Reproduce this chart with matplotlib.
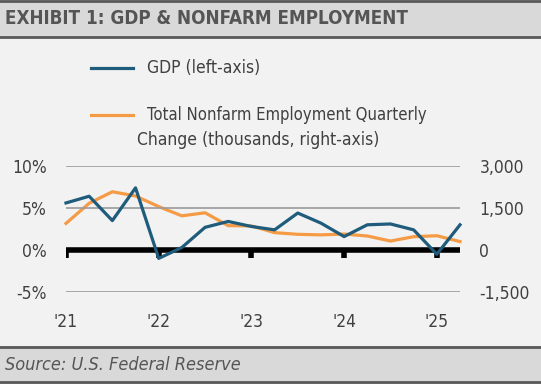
import matplotlib
matplotlib.use("Agg")
import matplotlib.pyplot as plt
from matplotlib.lines import Line2D
from matplotlib.patches import Rectangle

# quarterly data, 2021Q1 .. 2025Q2
quarters = [2021 + i / 4 for i in range(18)]
gdp = [5.6, 6.4, 3.5, 7.4, -1.0, 0.3, 2.7, 3.4, 2.8, 2.4, 4.4, 3.2,
       1.6, 3.0, 3.1, 2.4, -0.5, 3.0]
payrolls = [950, 1670, 2080, 1930, 1550, 1220, 1330, 870, 860, 620, 560, 540,
            570, 500, 320, 475, 510, 300]

year_ticks = [2021, 2022, 2023, 2024, 2025]
year_labels = ["'21", "'22", "'23", "'24", "'25"]
left_ticks = [-5, 0, 5, 10]
left_labels = ["-5%", "0%", "5%", "10%"]
right_ticks = [-1500, 0, 1500, 3000]
right_labels = ["-1,500", "0", "1,500", "3,000"]

BLUE = "#1f5c7b"
ORANGE = "#f59b45"
TEXT = "#404040"
plt.rcParams["font.family"] = ["DejaVu Sans"]
plt.rcParams["font.stretch"] = "condensed"

W, H = 541, 384
fig = plt.figure(figsize=(W / 100, H / 100), dpi=100)
fig.patch.set_facecolor("#f2f2f2")


def fx(px):
    return px / W


def fy(py):
    return 1 - py / H


# header and footer bands
fig.add_artist(Rectangle((0, fy(38)), 1, fy(0) - fy(38), transform=fig.transFigure,
                         facecolor="#d9d9d9", edgecolor="none", zorder=0))
fig.add_artist(Rectangle((0, fy(384)), 1, fy(346) - fy(384), transform=fig.transFigure,
                         facecolor="#d9d9d9", edgecolor="none", zorder=0))
for yy in (1, 37, 347, 382):
    fig.add_artist(Line2D([0, 1], [fy(yy), fy(yy)], transform=fig.transFigure,
                          color="#595959", lw=2))
fig.text(fx(5), fy(19), "EXHIBIT 1: GDP & NONFARM EMPLOYMENT", fontsize=13.5,
         fontweight="bold", color="#555555", va="center", ha="left")
fig.text(fx(5), fy(365), "Source: U.S. Federal Reserve", fontsize=13,
         style="italic", color="#555555", va="center", ha="left")

# main axes: 10% at y=166px, -5% at y=292px
ax = fig.add_axes([fx(66), fy(292), fx(460) - fx(66), fy(166) - fy(292)])
ax2 = ax.twinx()
ax.set_zorder(ax2.get_zorder() + 1)
ax.patch.set_visible(False)

ax.set_xlim(2021, 2025.25)
ax.set_ylim(-5, 10)
ax2.set_ylim(-1500, 3000)

for v in (10, 5, -5):
    ax.axhline(v, color="#9a9a9a", lw=1.2, zorder=1)
ax.axhline(0, color="black", lw=4, zorder=2, solid_capstyle="butt")
ax.vlines(year_ticks, -0.95, 0, color="black", lw=4, zorder=2)

ax2.plot(quarters, payrolls, color=ORANGE, lw=2.3, clip_on=False)
ax.plot(quarters, gdp, color=BLUE, lw=2.3, zorder=3, clip_on=False)

for a in (ax, ax2):
    for s in a.spines.values():
        s.set_visible(False)
    a.tick_params(length=0, labelsize=12.5, labelcolor=TEXT)

ax.set_yticks(left_ticks, left_labels)
ax.tick_params(axis="y", pad=14)
ax2.set_yticks(right_ticks, right_labels)
ax2.tick_params(axis="y", pad=14)
ax2.set_xticks([])
ax.set_xticks(year_ticks, year_labels)
ax.tick_params(axis="x", pad=15)

# legend drawn by hand to keep the layout
fig.add_artist(Line2D([fx(91), fx(133)], [fy(68), fy(68)], transform=fig.transFigure,
                      color=BLUE, lw=2.3))
fig.add_artist(Line2D([fx(91), fx(133)], [fy(115), fy(115)], transform=fig.transFigure,
                      color=ORANGE, lw=2.3))
fig.text(fx(147), fy(68), "GDP (left-axis)", fontsize=12.5, color=TEXT, va="center")
fig.text(fx(147), fy(115), "Total Nonfarm Employment Quarterly", fontsize=12,
         color=TEXT, va="center")
fig.text(fx(137), fy(140), "Change (thousands, right-axis)", fontsize=12.5,
         color=TEXT, va="center")

fig.savefig("out.png", dpi=100, facecolor=fig.get_facecolor())
